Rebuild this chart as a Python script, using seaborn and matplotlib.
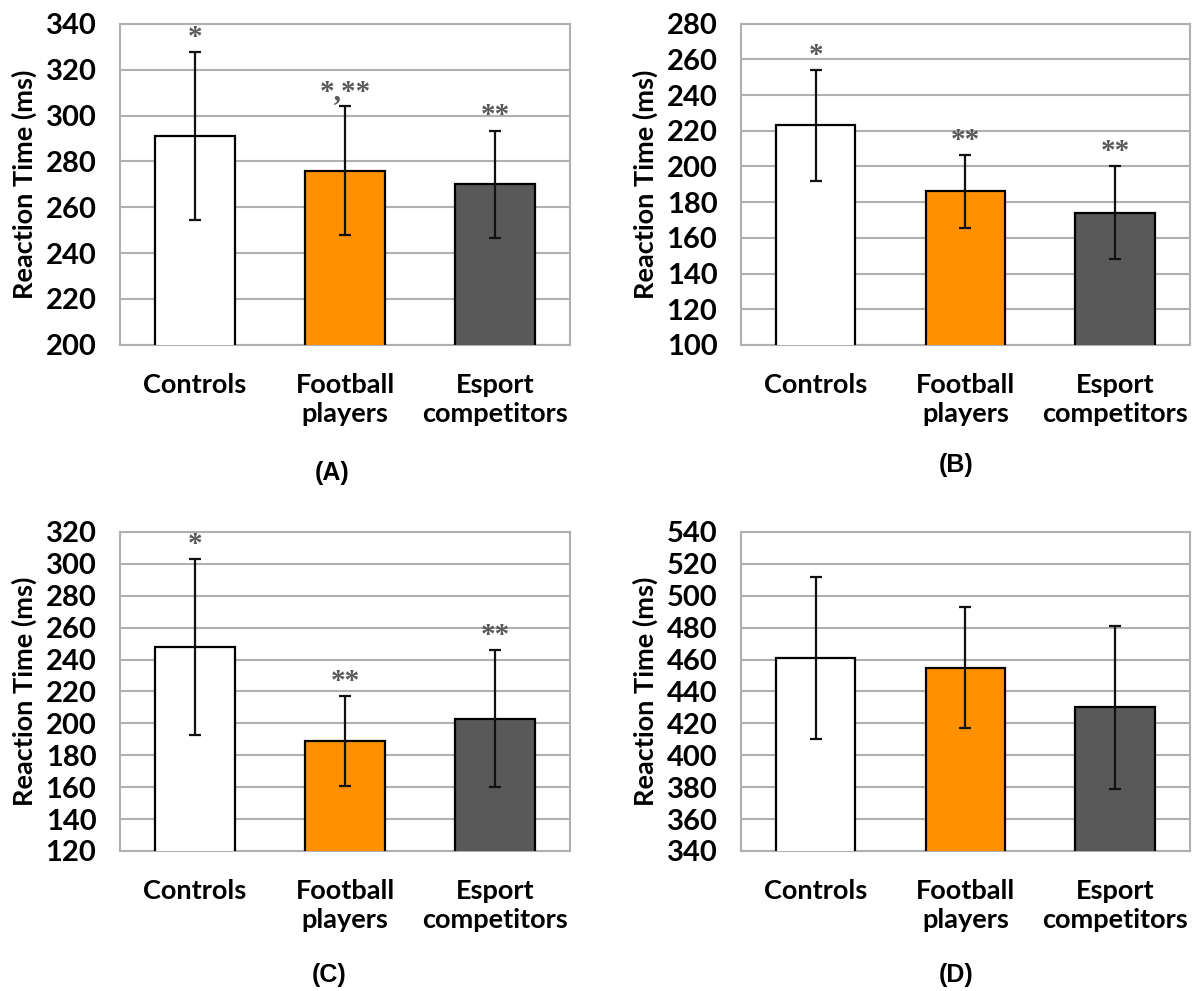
import pandas as pd
import matplotlib.pyplot as plt
import seaborn as sns

# Groups and colours
groups = ["Controls", "Football\nplayers", "Esport\ncompetitors"]
bar_colors = ["#FFFFFF", "#FF9100", "#595959"]

# Mean reaction times (ms) and SDs
mean_a = [291, 276, 270]
sd_a = [36.5, 28, 23.3]
mean_b = [223, 186, 174]
sd_b = [31, 20.5, 26]
mean_c = [248, 189, 203]
sd_c = [55, 28, 43]
mean_d = [461, 455, 430]
sd_d = [51, 38, 51]

# Significance marks
stars_a = ["*", "*,**", "**"]
stars_b = ["*", "**", "**"]
stars_c = ["*", "**", "**"]
stars_d = ["", "", ""]

# y-axis ranges
ylim_a = (200, 340)
ylim_b = (100, 280)
ylim_c = (120, 320)
ylim_d = (340, 540)

panel_labels = ["(A)", "(B)", "(C)", "(D)"]

sns.set_style("white")
plt.rcParams["font.family"] = ["Lato", "DejaVu Sans"]
plt.rcParams["text.color"] = "black"
plt.rcParams["axes.labelcolor"] = "black"
plt.rcParams["xtick.color"] = "black"
plt.rcParams["ytick.color"] = "black"

fig = plt.figure(figsize=(11.94, 9.91), dpi=100)

# axes rectangles in figure fractions
rects = [
    [0.1005, 0.652, 0.377, 0.324],
    [0.6206, 0.652, 0.376, 0.324],
    [0.1005, 0.1413, 0.377, 0.3219],
    [0.6206, 0.1413, 0.376, 0.3219],
]
label_pos = [(0.278, 0.523), (0.801, 0.531), (0.276, 0.016), (0.801, 0.016)]

panels = [
    (mean_a, sd_a, stars_a, ylim_a),
    (mean_b, sd_b, stars_b, ylim_b),
    (mean_c, sd_c, stars_c, ylim_c),
    (mean_d, sd_d, stars_d, ylim_d),
]

for i, (means, sds, stars, ylim) in enumerate(panels):
    ax = fig.add_axes(rects[i])
    df = pd.DataFrame({"group": groups, "rt": means})
    sns.barplot(
        data=df, x="group", y="rt", hue="group",
        palette=bar_colors, saturation=1, width=0.53, edgecolor="black",
        linewidth=1.6, legend=False, ax=ax, zorder=3,
    )
    ax.errorbar(
        range(len(groups)), means, yerr=sds, fmt="none",
        ecolor="#111111", elinewidth=1.6, capsize=4, capthick=1.6, zorder=4,
    )
    for x, (m, s, txt) in enumerate(zip(means, sds, stars)):
        if txt:
            ax.annotate(
                txt, (x, m + s), xytext=(0, 1), textcoords="offset points",
                ha="center", va="bottom", fontsize=21, fontweight="bold",
                color="#595959", family="Liberation Serif",
            )

    ax.set_ylim(*ylim)
    ax.set_xlim(-0.5, 2.5)
    ax.set_yticks(range(ylim[0], ylim[1] + 1, 20))
    ax.yaxis.grid(True, color="#B0B0B0", linewidth=1.5, zorder=0)
    ax.set_axisbelow(True)
    for sp in ax.spines.values():
        sp.set_visible(True)
        sp.set_color("#B0B0B0")
        sp.set_linewidth(1.5)

    ax.set_xlabel("")
    ax.set_ylabel("Reaction Time (ms)", fontsize=19.5, fontweight="bold", labelpad=6)
    ax.tick_params(axis="y", length=0, pad=17, labelsize=21)
    ax.tick_params(axis="x", length=0, pad=20, labelsize=19.5)
    for lab in ax.get_yticklabels() + ax.get_xticklabels():
        lab.set_fontweight("bold")
        lab.set_linespacing(1.25)

    fig.text(label_pos[i][0], label_pos[i][1], panel_labels[i],
             ha="center", va="center", fontsize=18, fontweight="bold",
             family="Liberation Sans")

plt.savefig("out.png", dpi=100)
